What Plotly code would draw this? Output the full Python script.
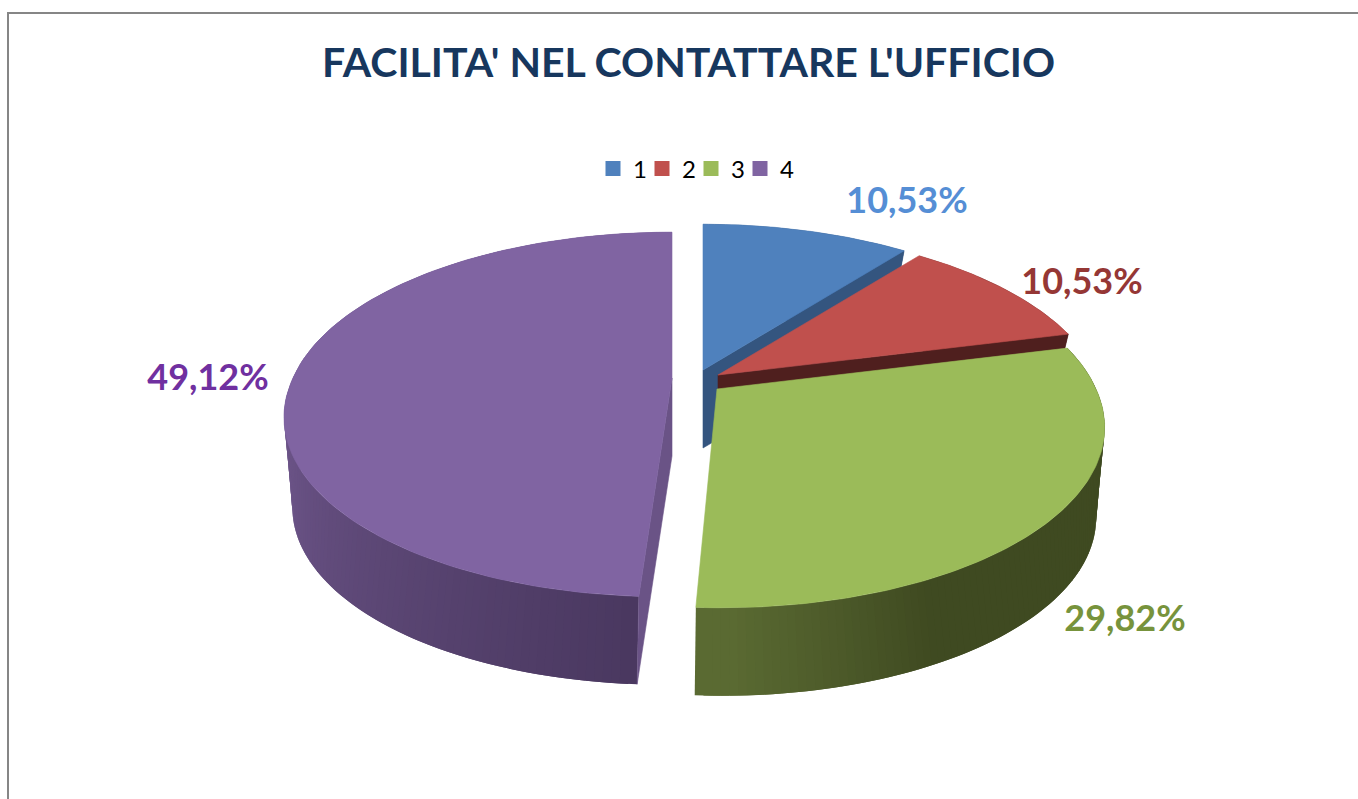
import math
import plotly.graph_objects as go

# ---- data ----
categories = ["1", "2", "3", "4"]
shares = [10.53, 10.53, 29.82, 49.12]

# ---- styling ----
top_colors = ["#4F81BD", "#C0504D", "#9BBB59", "#8064A2"]
cut_colors = ["#34557F", "#4F1F1E", "#3F4A21", "#6A5386"]
label_colors = ["#558ED5", "#953735", "#77933C", "#7030A0"]
wall_light = ["#34557F", "#4F1F1E", "#5A6A32", "#755C93"]
wall_dark = ["#34557F", "#4F1F1E", "#3F4A21", "#4A3860"]
# slice apex on the top disc after explosion, in page pixels
apex_x = [703, 718, 717, 672]
apex_y = [370, 375, 389, 378]
skew = [0.0, 0.0, 0.023, -0.032]
label_x = [907, 1082, 1125, 208]
label_y = [204, 285, 622, 381]

W, H = 1358, 799
A, B, P = 379.0, 175.0, 0.20        # top disc
AL, BL, PL, DROP = 364.0, 167.0, 0.27, 78.0   # lower disc


def top_pt(s, deg):
    t = math.radians(deg)
    u, v = math.sin(t), math.cos(t)
    w = 1 + P * v
    dy = -B * v / w
    return apex_x[s] + A * u / w + skew[s] * max(dy, 0), apex_y[s] + dy


def low_pt(s, deg):
    t = math.radians(deg)
    u, v = math.sin(t), math.cos(t)
    w = 1 + PL * v
    dy = -BL * v / w
    return apex_x[s] + AL * u / w + skew[s] * max(dy, 0), apex_y[s] + DROP + dy


def mix(c1, c2, f):
    f = max(0.0, min(1.0, f))
    a = [int(c1[i:i + 2], 16) for i in (1, 3, 5)]
    b = [int(c2[i:i + 2], 16) for i in (1, 3, 5)]
    return "rgb(%d,%d,%d)" % tuple(round(x + (y - x) * f) for x, y in zip(a, b))


def poly(pts, color, lw=0.6):
    xs = [p[0] for p in pts] + [pts[0][0]]
    ys = [p[1] for p in pts] + [pts[0][1]]
    return go.Scatter(x=xs, y=ys, mode="lines", fill="toself", fillcolor=color,
                      line=dict(color=color, width=lw), hoverinfo="skip",
                      showlegend=False)


total = sum(shares)
starts, ends = [], []
acc = 0.0
for v in shares:
    starts.append(acc / total * 360)
    acc += v
    ends.append(acc / total * 360)

fig = go.Figure()


def draw_slice(s):
    d0, d1 = starts[s], ends[s]
    # outer wall, shaded in fine steps; each step overlaps the next one to hide seams
    n = max(8, int(d1 - d0))
    step = (d1 - d0) / n
    order = range(n) if s == 2 else range(n - 1, -1, -1)
    for i in order:
        a0 = d0 + step * i
        a1 = a0 + step
        mid = (a0 + a1) / 2
        if s == 2:
            f = (180 - mid) / 25
            a0 = max(d0, a0 - step)
        elif s == 3:
            f = 1 - (mid - 183) / 87
            a1 = min(d1, a1 + step)
        else:
            f = 0
        col = mix(wall_light[s], wall_dark[s], f)
        fig.add_trace(poly([top_pt(s, a0), top_pt(s, a1), low_pt(s, a1), low_pt(s, a0)], col, lw=0))
    # cut faces
    ap = (apex_x[s], apex_y[s])
    apl = (apex_x[s], apex_y[s] + DROP)
    if s in (0, 1):
        fig.add_trace(poly([ap, top_pt(s, d1), low_pt(s, d1), apl], cut_colors[s]))
    if s == 3:
        fig.add_trace(poly([ap, top_pt(s, d0), low_pt(s, d0), apl], cut_colors[s]))
    # top face
    n = 120
    pts = [ap] + [top_pt(s, d0 + (d1 - d0) * i / n) for i in range(n + 1)]
    fig.add_trace(poly(pts, top_colors[s]))


for s in [0, 1, 3, 2]:
    draw_slice(s)

# data labels
for s, v in enumerate(shares):
    fig.add_trace(go.Scatter(
        x=[label_x[s]], y=[label_y[s]], mode="text",
        text=[f"{v:.2f}".replace(".", ",") + "%"],
        textposition="middle center",
        textfont=dict(family="Lato, Carlito, sans-serif", size=36, color=label_colors[s], weight="bold"),
        hoverinfo="skip", showlegend=False))

# legend entries
for s, c in enumerate(categories):
    fig.add_trace(go.Scatter(
        x=[None], y=[None], mode="markers", name=c,
        marker=dict(symbol="square", size=15, color=top_colors[s])))
# transparent spacer so the fixed-width legend does not clip the last label
fig.add_trace(go.Scatter(x=[None], y=[None], mode="markers", name=" ",
                         marker=dict(symbol="square", size=15, color="rgba(0,0,0,0)")))

fig.update_layout(
    width=W, height=H,
    margin=dict(l=0, r=0, t=0, b=0),
    paper_bgcolor="white", plot_bgcolor="white",
    title=dict(text="FACILITA' NEL CONTATTARE L'UFFICIO",
               x=688.5 / W, xanchor="center", y=1 - 63 / H, yanchor="middle",
               font=dict(family="Lato, Carlito, sans-serif", size=41, color="#17375E", weight="bold")),
    xaxis=dict(range=[0, W], visible=False, fixedrange=True),
    yaxis=dict(range=[H, 0], visible=False, fixedrange=True),
    legend=dict(orientation="h", x=593 / W, xanchor="left", y=1 - 169 / H, yanchor="middle",
                font=dict(family="Lato, Carlito, sans-serif", size=24, color="black"),
                entrywidth=4, entrywidthmode="pixels", itemwidth=30,
                bgcolor="rgba(0,0,0,0)"),
    shapes=[
        dict(type="line", xref="x", yref="y", x0=8, x1=8, y0=12, y1=H, line=dict(color="#868686", width=2)),
        dict(type="line", xref="x", yref="y", x0=7, x1=W, y0=13, y1=13, line=dict(color="#868686", width=2)),
    ],
)

fig.write_html("out.html", config={"displayModeBar": False},
               post_script="document.body.style.margin='0';document.body.style.overflow='hidden';")
